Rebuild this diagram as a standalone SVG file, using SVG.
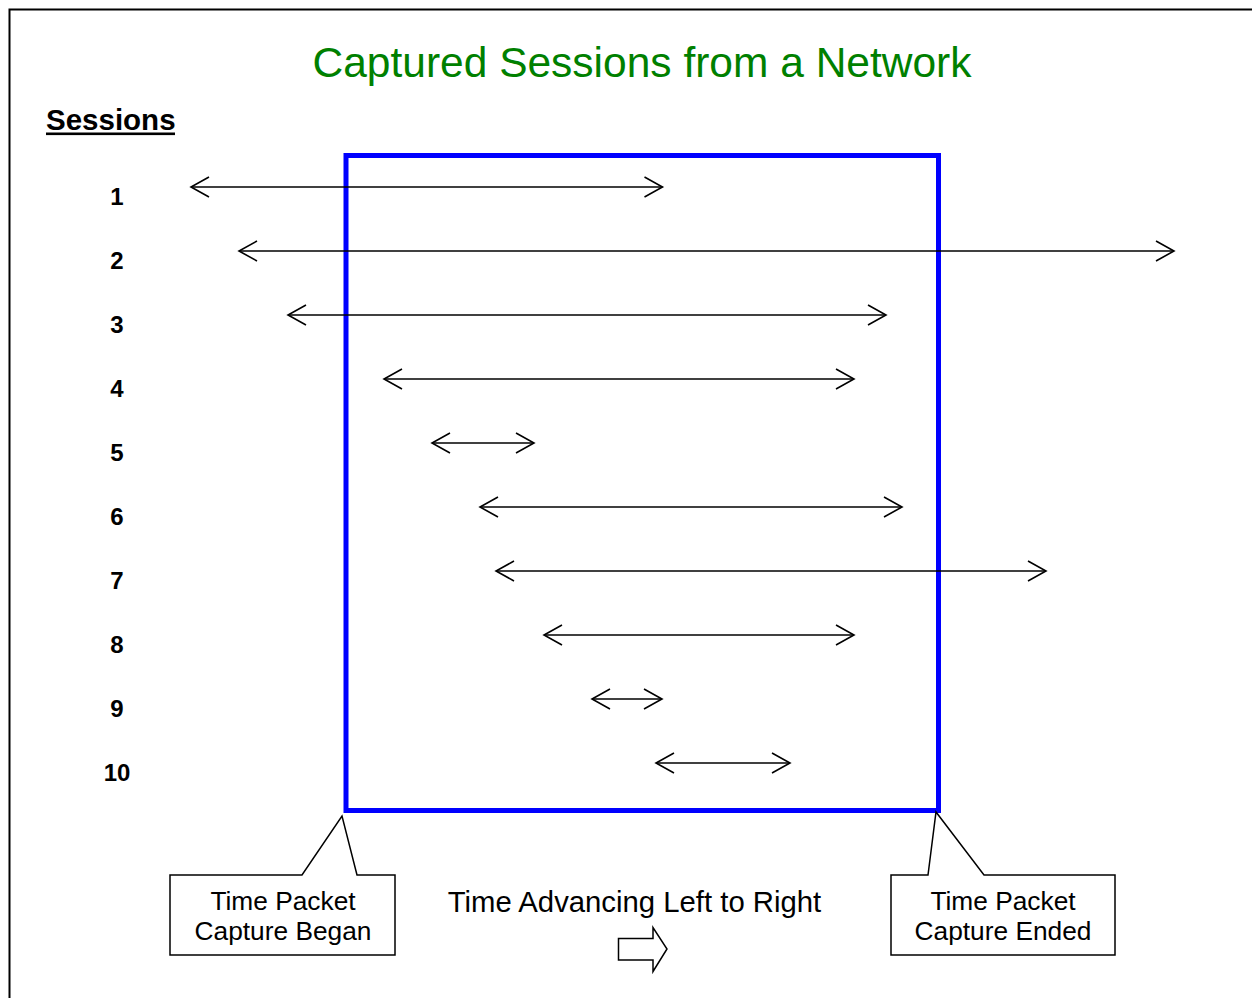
<svg xmlns="http://www.w3.org/2000/svg" width="1252" height="998" viewBox="0 0 1252 998">
  <style>
    .title { font-family: "Liberation Sans", Arial, sans-serif; font-size: 42.5px; fill: #008000; }
    .heading { font-family: "Liberation Sans", Arial, sans-serif; font-size: 29.5px; font-weight: bold; fill: #000; }
    .num { font-family: "Liberation Sans", Arial, sans-serif; font-size: 24px; font-weight: bold; fill: #000; text-anchor: middle; }
    .label { font-family: "Liberation Sans", Arial, sans-serif; font-size: 26.3px; fill: #000; text-anchor: middle; }
    .caption { font-family: "Liberation Sans", Arial, sans-serif; font-size: 29.3px; fill: #000; text-anchor: middle; }
    .session { stroke: #000; stroke-width: 1.6; fill: none; marker-start: url(#open); marker-end: url(#open); }
    .callout { fill: #fff; stroke: #000; stroke-width: 1.5; }
  </style>
  <defs>
    <marker id="open" markerUnits="userSpaceOnUse" viewBox="-20 -12 22 24" refX="0" refY="0" markerWidth="22" markerHeight="24" orient="auto-start-reverse">
      <path d="M-18,-10 L0,0 L-18,10" fill="none" stroke="#000" stroke-width="1.6"/>
    </marker>
  </defs>

  <rect x="0" y="0" width="1252" height="998" fill="#fff"/>
  <!-- page frame -->
  <rect x="9.5" y="9.5" width="1260" height="1010" fill="none" stroke="#000" stroke-width="2"/>

  <text class="title" x="642" y="77" text-anchor="middle">Captured Sessions from a Network</text>

  <g id="sessions-heading">
    <text class="heading" x="46" y="129.5">Sessions</text>
    <rect x="46" y="132.5" width="129" height="2.6" fill="#000"/>
  </g>

  <!-- capture window -->
  <g id="capture-window">
    <rect x="346" y="155.5" width="592.5" height="655" fill="none" stroke="#0000ff" stroke-width="5"/>
  </g>

  <g id="session-numbers">
    <text class="num" x="117" y="205">1</text>
    <text class="num" x="117" y="269">2</text>
    <text class="num" x="117" y="333">3</text>
    <text class="num" x="117" y="397">4</text>
    <text class="num" x="117" y="461">5</text>
    <text class="num" x="117" y="525">6</text>
    <text class="num" x="117" y="589">7</text>
    <text class="num" x="117" y="653">8</text>
    <text class="num" x="117" y="717">9</text>
    <text class="num" x="117" y="781">10</text>
  </g>

  <!-- session spans -->
  <g id="connectors">
    <line class="session" x1="191" y1="187" x2="662.5" y2="187"/>
    <line class="session" x1="239" y1="251" x2="1174" y2="251"/>
    <line class="session" x1="288" y1="315" x2="886" y2="315"/>
    <line class="session" x1="384" y1="379" x2="854" y2="379"/>
    <line class="session" x1="432" y1="443" x2="534" y2="443"/>
    <line class="session" x1="480" y1="507" x2="902" y2="507"/>
    <line class="session" x1="496" y1="571" x2="1046" y2="571"/>
    <line class="session" x1="544" y1="635" x2="854" y2="635"/>
    <line class="session" x1="592" y1="699" x2="662" y2="699"/>
    <line class="session" x1="656" y1="763" x2="790" y2="763"/>
  </g>

  <g id="callout-began">
    <path class="callout" d="M170,875 L302,875 L342,816 L357,875 L395,875 L395,955 L170,955 Z"/>
    <text class="label" x="283" y="910">Time Packet</text>
    <text class="label" x="283" y="940">Capture Began</text>
  </g>

  <g id="callout-ended">
    <path class="callout" d="M891,875 L928,875 L936,812 L984,875 L1115,875 L1115,955 L891,955 Z"/>
    <text class="label" x="1003" y="910">Time Packet</text>
    <text class="label" x="1003" y="940">Capture Ended</text>
  </g>

  <g id="time-direction">
    <text class="caption" x="634.5" y="911.5">Time Advancing Left to Right</text>
    <path d="M618.5,938.5 L653,938.5 L653,927.5 L667,949 L653,971.5 L653,960 L618.5,960 Z" fill="#fff" stroke="#000" stroke-width="1.5"/>
  </g>
</svg>
